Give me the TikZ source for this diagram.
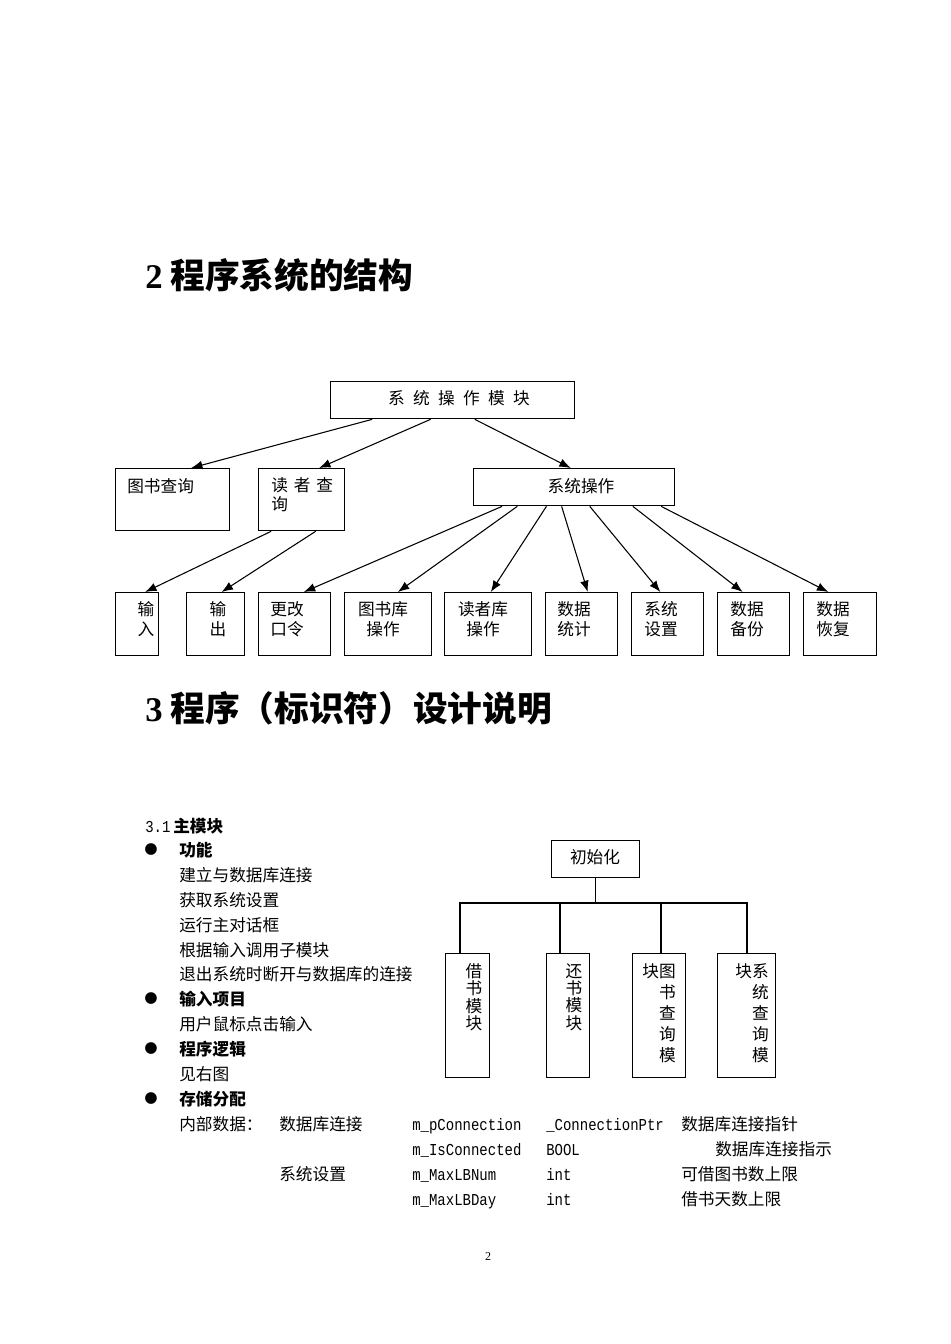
\documentclass[tikz,border=0pt]{standalone}
\usepackage{fontspec}
\setmainfont{Noto Sans CJK SC}
\newfontfamily\tnr{Liberation Serif}
\newfontfamily\mono[FakeStretch=0.84]{Liberation Mono}
\newfontfamily\sym{DejaVu Sans}
\usetikzlibrary{arrows.meta,calc}
\newcommand\mkbox[5]{\node[box, minimum width={(#4-#2)*0.75pt}, minimum height={(#5-#3)*0.75pt}] (#1) at (#2,#3) {};}
\tikzset{
  box/.style={draw, line width=1pt, inner sep=0pt, anchor=north west},
  txt/.style={inner sep=0pt, font=\fontsize{12.5}{15}\selectfont},
  two/.style={inner sep=0pt, align=center, font=\fontsize{12.5}{15}\selectfont},
  vert/.style={inner sep=0pt, align=center, font=\fontsize{12.5}{13.1}\selectfont},
  vertr/.style={inner sep=0pt, align=right, font=\fontsize{12.5}{15.75}\selectfont},
  arr/.style={-{Latex[length=8.5pt,width=6.5pt]}, line width=0.8pt},
  ln/.style={line width=0.9pt},
  body/.style={inner sep=0pt, anchor=base west, font=\fontsize{12.5}{15}\selectfont},
  bul/.style={inner sep=0pt, font=\fontsize{11.5}{13}\selectfont\sym},
  head/.style={inner sep=0pt, anchor=west, font=\fontsize{26}{30}\selectfont\bfseries},
}
\begin{document}
\begin{tikzpicture}[x=0.75pt,y=-0.75pt]
\useasboundingbox (0,0) rectangle (950,1344);
% headings
\node[head] (h2) at (145,275) {{\tnr 2} 程序系统的结构};
\node[head] (h3) at (145,708) {{\tnr 3} 程序（标识符）设计说明};
% top tree boxes
\mkbox{root}{330}{381}{574}{418}
\mkbox{tscx}{115}{468}{229}{530}
\mkbox{dzcx}{258}{468}{344}{530}
\mkbox{xtcz}{473}{468}{674}{505}
\mkbox{b1}{115}{592}{158}{655}
\mkbox{b2}{186}{592}{244}{655}
\mkbox{b3}{258}{592}{330}{655}
\mkbox{b4}{344}{592}{431}{655}
\mkbox{b5}{444}{592}{531}{655}
\mkbox{b6}{545}{592}{617}{655}
\mkbox{b7}{631}{592}{703}{655}
\mkbox{b8}{717}{592}{789}{655}
\mkbox{b9}{803}{592}{876}{655}
% texts
\node[txt] (troot) at (459,398) {系\hspace{0.5em}统\hspace{0.5em}操\hspace{0.5em}作\hspace{0.5em}模\hspace{0.5em}块};
\node[txt, anchor=west] (ttscx) at (127,486) {图书查询};
\node[txt, anchor=north west, align=left, font=\fontsize{12.5}{14.25}\selectfont] (tdzcx) at (271,477) {读\hspace{0.35em}者\hspace{0.35em}查\\询};
\node[txt] (txtcz) at (581,486) {系统操作};
\node[two] (tb1) at (146,619) {输\\入};
\node[two] (tb2) at (218,619) {输\\出};
\node[two] (tb3) at (287,619) {更改\\口令};
\node[two] (tb4) at (383,619) {图书库\\操作};
\node[two] (tb5) at (483,619) {读者库\\操作};
\node[two] (tb6) at (574,619) {数据\\统计};
\node[two] (tb7) at (661,619) {系统\\设置};
\node[two] (tb8) at (747,619) {数据\\备份};
\node[two] (tb9) at (833,619) {数据\\恢复};
% arrows
\draw[arr] ($(root.south west)!0.172!(root.south east)$) -- ($(tscx.north west)!0.66!(tscx.north east)$);
\draw[arr] ($(root.south west)!0.41!(root.south east)$) -- ($(dzcx.north west)!0.70!(dzcx.north east)$);
\draw[arr] ($(root.south west)!0.59!(root.south east)$) -- ($(xtcz.north west)!0.483!(xtcz.north east)$);
\draw[arr] ($(dzcx.south west)!0.15!(dzcx.south east)$) -- ($(b1.north west)!0.68!(b1.north east)$);
\draw[arr] ($(dzcx.south west)!0.66!(dzcx.south east)$) -- ($(b2.north west)!0.60!(b2.north east)$);
\draw[arr] ($(xtcz.south west)!0.144!(xtcz.south east)$) -- ($(b3.north west)!0.625!(b3.north east)$);
\draw[arr] ($(xtcz.south west)!0.219!(xtcz.south east)$) -- ($(b4.north west)!0.61!(b4.north east)$);
\draw[arr] ($(xtcz.south west)!0.363!(xtcz.south east)$) -- ($(b5.north west)!0.53!(b5.north east)$);
\draw[arr] ($(xtcz.south west)!0.438!(xtcz.south east)$) -- ($(b6.north west)!0.583!(b6.north east)$);
\draw[arr] ($(xtcz.south west)!0.577!(xtcz.south east)$) -- ($(b7.north west)!0.40!(b7.north east)$);
\draw[arr] ($(xtcz.south west)!0.79!(xtcz.south east)$) -- ($(b8.north west)!0.35!(b8.north east)$);
\draw[arr] ($(xtcz.south west)!0.93!(xtcz.south east)$) -- ($(b9.north west)!0.34!(b9.north east)$);
% section 3.1
\node[body] (s31) at (145,832) {{\mono 3.1}\,{\bfseries 主模块}};
\node[bul] (bu1) at (151,850) {●};
\node[body] (l1) at (179,856) {\bfseries 功能};
\node[body] (l2) at (179,881) {建立与数据库连接};
\node[body] (l3) at (179,906) {获取系统设置};
\node[body] (l4) at (179,931) {运行主对话框};
\node[body] (l5) at (179,956) {根据输入调用子模块};
\node[body] (l6) at (179,980) {退出系统时断开与数据库的连接};
\node[bul] (bu2) at (151,999) {●};
\node[body] (l7) at (179,1005) {\bfseries 输入项目};
\node[body] (l8) at (179,1030) {用户鼠标点击输入};
\node[bul] (bu3) at (151,1049) {●};
\node[body] (l9) at (179,1055) {\bfseries 程序逻辑};
\node[body] (l10) at (179,1080) {见右图};
\node[bul] (bu4) at (151,1099) {●};
\node[body] (l11) at (179,1105) {\bfseries 存储分配};
% table
\node[body] (c11) at (179,1130) {内部数据：};
\node[body] (c12) at (279,1130) {数据库连接};
\node[body] (c13) at (412,1130) {\mono m\_pConnection};
\node[body] (c14) at (546,1130) {\mono \_ConnectionPtr};
\node[body] (c15) at (681,1130) {数据库连接指针};
\node[body] (c23) at (412,1155) {\mono m\_IsConnected};
\node[body] (c24) at (546,1155) {\mono BOOL};
\node[body] (c25) at (715,1155) {数据库连接指示};
\node[body] (c32) at (279,1180) {系统设置};
\node[body] (c33) at (412,1180) {\mono m\_MaxLBNum};
\node[body] (c34) at (546,1180) {\mono int};
\node[body] (c35) at (681,1180) {可借图书数上限};
\node[body] (c43) at (412,1205) {\mono m\_MaxLBDay};
\node[body] (c44) at (546,1205) {\mono int};
\node[body] (c45) at (681,1205) {借书天数上限};
% right tree
\mkbox{init}{551}{840}{639}{877}
\node[txt] (tinit) at (595,857) {初始化};
\mkbox{r1}{445}{953}{489}{1077}
\mkbox{r2}{546}{953}{589}{1077}
\mkbox{r3}{632}{953}{685}{1077}
\mkbox{r4}{717}{953}{775}{1077}
\coordinate (j) at (init.south |- 0,903);
\coordinate (p1) at ($(r1.north west)+(15,0)$);
\coordinate (p2) at ($(r2.north west)+(14,0)$);
\coordinate (p3) at ($(r3.north west)+(29,0)$);
\coordinate (p4) at ($(r4.north west)+(30,0)$);
\draw[line width=1pt] (init.south) -- (j);
\draw[ln] (p1) |- (p4 |- j) -- (p4);
\draw[ln] (p2) -- (p2 |- j);
\draw[ln] (p3) -- (p3 |- j);
\node[vert] (tr1) at (474,997) {借\\书\\模\\块};
\node[vert] (tr2) at (574,997) {还\\书\\模\\块};
\node[vertr, anchor=east] (tr3) at (676,1013) {块图\\书\\查\\询\\模};
\node[vertr, anchor=east] (tr4) at (769,1013) {块系\\统\\查\\询\\模};
% page number
\node[inner sep=0pt, font=\fontsize{9}{10}\selectfont\tnr] (pg) at (488,1257) {2};
\end{tikzpicture}
\end{document}
